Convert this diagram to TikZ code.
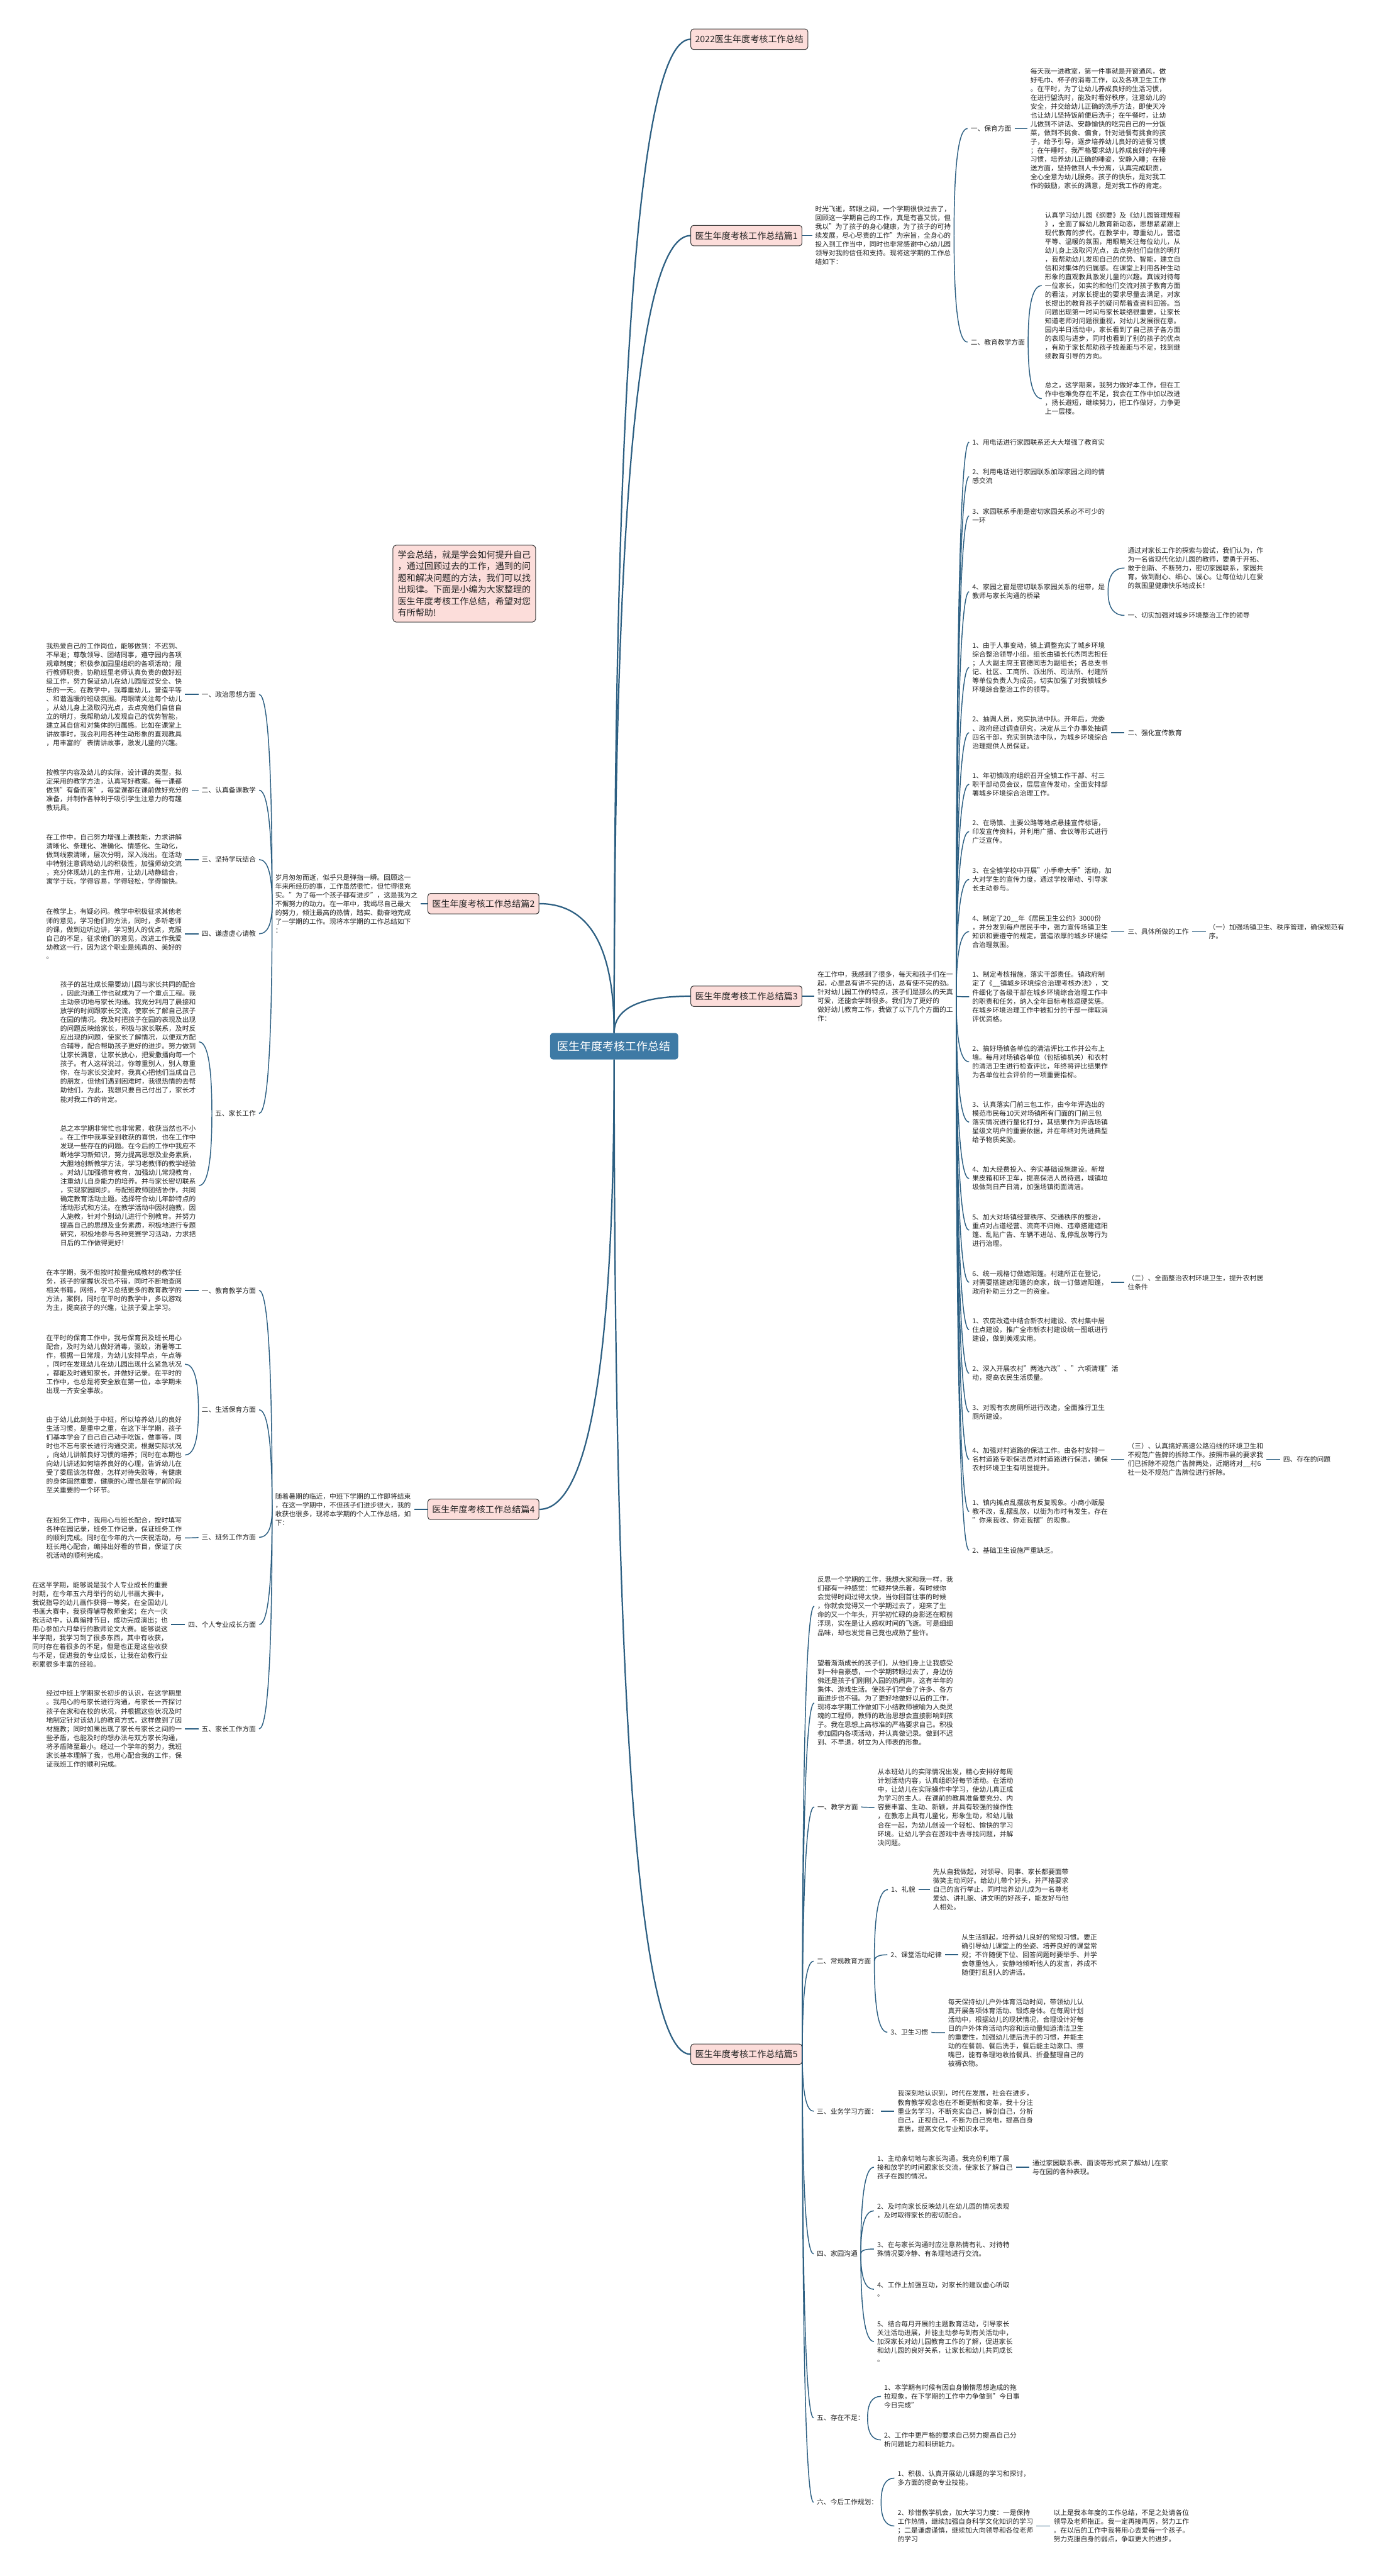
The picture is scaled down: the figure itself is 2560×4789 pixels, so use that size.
\documentclass[tikz,border=0pt]{standalone}
\usepackage{fontspec}
\setmainfont{Noto Sans CJK SC}
\usetikzlibrary{calc}
\definecolor{lnk}{RGB}{44,95,130}
\definecolor{ctr}{RGB}{62,122,165}
\definecolor{pk}{RGB}{252,221,218}
\definecolor{bd}{RGB}{60,60,60}
\definecolor{tx}{RGB}{35,35,35}
\tikzset{
 txt/.style={inner sep=0pt, outer sep=6pt, align=left, anchor=west, text=tx, font=\fontsize{12.6}{16.4}\selectfont},
 brbox/.style={draw=bd, line width=1.2pt, fill=pk, rounded corners=5pt, inner xsep=8pt, inner ysep=0pt, minimum height=38pt, anchor=west, text=tx, font=\fontsize{16.5}{18}\selectfont},
 ctrbox/.style={fill=ctr, rounded corners=5pt, minimum width=238pt, minimum height=49pt, text=white, font=\fontsize{21}{24}\selectfont},
 introbox/.style={draw=bd, line width=1.2pt, fill=pk, rounded corners=6pt, inner xsep=9pt, inner ysep=10pt, anchor=north west, align=left, text=tx, font=\fontsize{16.5}{21.5}\selectfont},
 conn/.style={draw=lnk, line width=1.7pt},
 mconn/.style={draw=lnk, line width=2.6pt},
}
\newcommand\cv[3][conn]{\draw[#1] (#2) .. controls ($(#2)!0.667!(#2|-#3)$) and ($(#3)!0.667!(#2|-#3)$) .. (#3);}
\begin{document}
\begin{tikzpicture}[x=1pt,y=-1pt]
\fill[white] (0,0) rectangle (2560,4789);
\useasboundingbox (0,0) rectangle (2560,4789);

% ---------- centre ----------
\node[ctrbox] (c) at (1142,1945) {医生年度考核工作总结};

% ---------- branch boxes ----------
\node[brbox] (t0) at (1284,73) {2022医生年度考核工作总结};
\node[brbox] (b1) at (1284,438) {医生年度考核工作总结篇1};
\node[brbox] (b3) at (1284,1852) {医生年度考核工作总结篇3};
\node[brbox] (b5) at (1284,3819) {医生年度考核工作总结篇5};
\node[brbox] (b2) at (795,1680) {医生年度考核工作总结篇2};
\node[brbox] (b4) at (795,2806) {医生年度考核工作总结篇4};
\node[introbox] (sum) at (730,1013) {学会总结，就是学会如何提升自己\\，通过回顾过去的工作，遇到的问\\题和解决问题的方法，我们可以找\\出规律。下面是小编为大家整理的\\医生年度考核工作总结，希望对您\\有所帮助!};

\cv[mconn]{c.north}{t0.west}
\cv[mconn]{c.north}{b1.west}
\cv[mconn]{c.north}{b3.west}
\cv[mconn]{c.north}{b2.east}
\cv[mconn]{c.south}{b4.east}
\cv[mconn]{c.south}{b5.west}

% ---------- branch 1 ----------
\node[txt] (b1i) at (1510,438) {时光飞逝，转眼之间，一个学期很快过去了，\\回顾这一学期自己的工作，真是有喜又忧，但\\我以"为了孩子的身心健康，为了孩子的可持\\续发展，尽心尽责的工作"为宗旨，全身心的\\投入到工作当中，同时也非常感谢中心幼儿园\\领导对我的信任和支持。现将这学期的工作总\\结如下：};
\node[txt] (b1a) at (1799,239) {一、保育方面};
\node[txt] (b1at) at (1910,239) {每天我一进教室，第一件事就是开窗通风，做\\好毛巾、杯子的消毒工作，以及各项卫生工作\\。在平时，为了让幼儿养成良好的生活习惯，\\在进行盥洗时，能及时看好秩序，注意幼儿的\\安全，并交给幼儿正确的洗手方法，即使天冷\\也让幼儿坚持饭前便后洗手；在午餐时，让幼\\儿做到不讲话、安静愉快的吃完自己的一分饭\\菜，做到不挑食、偏食，针对进餐有挑食的孩\\子，给予引导，逐步培养幼儿良好的进餐习惯\\；在午睡时，我严格要求幼儿养成良好的午睡\\习惯，培养幼儿正确的睡姿，安静入睡；在接\\送方面，坚持做到人卡分离，认真完成职责，\\全心全意为幼儿服务。孩子的快乐，是对我工\\作的鼓励，家长的满意，是对我工作的肯定。};
\node[txt] (b1b) at (1799,636) {二、教育教学方面};
\node[txt] (b1b1) at (1937,531) {认真学习幼儿园《纲要》及《幼儿园管理规程\\》，全面了解幼儿教育新动态，思想紧紧跟上\\现代教育的步代。在教学中，尊重幼儿，营造\\平等、温暖的氛围，用眼睛关注每位幼儿，从\\幼儿身上汲取闪光点，去点亮他们自信的明灯\\，我帮助幼儿发现自己的优势、智能，建立自\\信和对集体的归属感。在课堂上利用各种生动\\形象的直观教具激发儿童的兴趣。真诚对待每\\一位家长，如实的和他们交流对孩子教育方面\\的看法，对家长提出的要求尽量去满足，对家\\长提出的教育孩子的疑问帮着查资料回答。当\\问题出现第一时间与家长联络很重要，让家长\\知道老师对问题很重视，对幼儿发展很在意。\\园内半日活动中，家长看到了自己孩子各方面\\的表现与进步，同时也看到了别的孩子的优点\\，有助于家长帮助孩子找差距与不足，找到继\\续教育引导的方向。};
\node[txt] (b1b2) at (1937,741) {总之，这学期来，我努力做好本工作，但在工\\作中也难免存在不足，我会在工作中加以改进\\，扬长避短，继续努力，把工作做好，力争更\\上一层楼。};
\cv{b1.east}{b1i.west}
\cv{b1i.east}{b1a.west}
\cv{b1i.east}{b1b.west}
\cv{b1a.east}{b1at.west}
\cv{b1b.east}{b1b1.west}
\cv{b1b.east}{b1b2.west}

% ---------- branch 3 ----------
\node[txt] (b3i) at (1514,1852) {在工作中，我感到了很多，每天和孩子们在一\\起，心里总有讲不完的话，总有使不完的劲。\\针对幼儿园工作的特点，孩子们是那么的天真\\可爱，还能会学到很多。我们为了更好的\\做好幼儿教育工作，我做了以下几个方面的工\\作：};
\node[txt] (r1) at (1802,822) {1、用电话进行家园联系还大大增强了教育实};
\node[txt] (r2) at (1802,886) {2、利用电话进行家园联系加深家园之间的情\\感交流};
\node[txt] (r3) at (1802,959) {3、家园联系手册是密切家园关系必不可少的\\一环};
\node[txt] (r4) at (1802,1100) {4、家园之窗是密切联系家园关系的纽带，是\\教师与家长沟通的桥梁};
\node[txt] (r4a) at (2091,1056) {通过对家长工作的探索与尝试，我们认为，作\\为一名省现代化幼儿园的教师，要勇于开拓、\\敢于创新、不断努力，密切家园联系，家园共\\育。做到耐心、细心、诚心。让每位幼儿在爱\\的氛围里健康快乐地成长！};
\node[txt] (r4b) at (2091,1144) {一、切实加强对城乡环境整治工作的领导};
\node[txt] (r5) at (1802,1241) {1、由于人事变动，镇上调整充实了城乡环境\\综合整治领导小组。组长由镇长代杰同志担任\\；人大副主席王官德同志为副组长；各总支书\\记、社区、工商所、派出所、司法所、村建所\\等单位负责人为成员，切实加强了对我镇城乡\\环境综合整治工作的领导。};
\node[txt] (r6) at (1802,1362) {2、抽调人员，充实执法中队。开年后，党委\\、政府经过调查研究，决定从三个办事处抽调\\四名干部，充实到执法中队，为城乡环境综合\\治理提供人员保证。};
\node[txt] (r6a) at (2091,1362) {二、强化宣传教育};
\node[txt] (r7) at (1802,1458) {1、年初镇政府组织召开全镇工作干部、村三\\职干部动员会议，层层宣传发动，全面安排部\\署城乡环境综合治理工作。};
\node[txt] (r8) at (1802,1546) {2、在场镇、主要公路等地点悬挂宣传标语，\\印发宣传资料，并利用广播、会议等形式进行\\广泛宣传。};
\node[txt] (r9) at (1802,1635) {3、在全镇学校中开展"小手牵大手"活动，加\\大对学生的宣传力度，通过学校带动、引导家\\长主动参与。};
\node[txt] (r10) at (1802,1732) {4、制定了20\_\_年《居民卫生公约》3000份\\，并分发到每户居民手中，强力宣传场镇卫生\\知识和要遵守的规定，营造浓厚的城乡环境综\\合治理氛围。};
\node[txt] (r10a) at (2091,1732) {三、具体所做的工作};
\node[txt] (r10b) at (2242,1732) {（一）加强场镇卫生、秩序管理，确保规范有\\序。};
\node[txt] (r11) at (1802,1853) {1、制定考核措施，落实干部责任。镇政府制\\定了《\_\_镇城乡环境综合治理考核办法》，文\\件细化了各级干部在城乡环境综合治理工作中\\的职责和任务，纳入全年目标考核逗硬奖惩。\\在城乡环境治理工作中被扣分的干部一律取消\\评优资格。};
\node[txt] (r12) at (1802,1974) {2、搞好场镇各单位的清洁评比工作并公布上\\墙。每月对场镇各单位（包括镇机关）和农村\\的清洁卫生进行检查评比，年终将评比结果作\\为各单位社会评价的一项重要指标。};
\node[txt] (r13) at (1802,2086) {3、认真落实门前三包工作，由今年评选出的\\模范市民每10天对场镇所有门面的门前三包\\落实情况进行量化打分，其结果作为评选场镇\\星级文明户的重要依据，并在年终对先进典型\\给予物质奖励。};
\node[txt] (r14) at (1802,2191) {4、加大经费投入、夯实基础设施建设。新增\\果皮箱和环卫车，提高保洁人员待遇，城镇垃\\圾做到日产日清，加强场镇街面清洁。};
\node[txt] (r15) at (1802,2287) {5、加大对场镇经营秩序、交通秩序的整治，\\重点对占道经营、流商不归摊、违章搭建遮阳\\篷、乱贴广告、车辆不进站、乱停乱放等行为\\进行治理。};
\node[txt] (r16) at (1802,2384) {6、统一规格订做遮阳篷。村建所正在登记，\\对需要搭建遮阳篷的商家，统一订做遮阳篷，\\政府补助三分之一的资金。};
\node[txt] (r16a) at (2091,2384) {（二）、全面整治农村环境卫生，提升农村居\\住条件};
\node[txt] (r17) at (1802,2472) {1、农房改造中结合新农村建设、农村集中居\\住点建设，推广全市新农村建设统一图纸进行\\建设，做到美观实用。};
\node[txt] (r18) at (1802,2553) {2、深入开展农村"两池六改"、"六项清理"活\\动，提高农民生活质量。};
\node[txt] (r19) at (1802,2625) {3、对现有农房厕所进行改造，全面推行卫生\\厕所建设。};
\node[txt] (r20) at (1802,2713) {4、加强对村道路的保洁工作。由各村安排一\\名村道路专职保洁员对村道路进行保洁，确保\\农村环境卫生有明显提升。};
\node[txt] (r20a) at (2091,2713) {（三）、认真搞好高速公路沿线的环境卫生和\\不规范广告牌的拆除工作。按照市县的要求我\\们已拆除不规范广告牌两处，近期将对\_\_村6\\社一处不规范广告牌位进行拆除。};
\node[txt] (r20b) at (2380,2713) {四、存在的问题};
\node[txt] (r21) at (1802,2810) {1、镇内摊点乱摆放有反复现象。小商小贩屡\\教不改，乱摆乱放，以街为市时有发生。存在\\"你来我收、你走我摆"的现象。};
\node[txt] (r22) at (1802,2882) {2、基础卫生设施严重缺乏。};
\cv{b3.east}{b3i.west}
\foreach \k in {1,...,22} {\cv{b3i.east}{r\k.west}}
\cv{r4.east}{r4a.west}
\cv{r4.east}{r4b.west}
\cv{r6.east}{r6a.west}
\cv{r10.east}{r10a.west}
\cv{r10a.east}{r10b.west}
\cv{r16.east}{r16a.west}
\cv{r20.east}{r20a.west}
\cv{r20a.east}{r20b.west}

% ---------- branch 5 ----------
\node[txt] (s1) at (1514,2986) {反思一个学期的工作，我想大家和我一样，我\\们都有一种感觉：忙碌并快乐着，有时候你\\会觉得时间过得太快，当你回首往事的时候\\，你就会觉得又一个学期过去了，迎来了生\\命的又一个年头，开学初忙碌的身影还在眼前\\浮现，实在是让人感叹时间的飞逝。可是细细\\品味，却也发觉自己竟也成熟了些许。};
\node[txt] (s2) at (1514,3166) {望着渐渐成长的孩子们，从他们身上让我感受\\到一种自豪感，一个学期转眼过去了，身边仿\\佛还是孩子们刚刚入园的热闹声，这有半年的\\集体、游戏生活。使孩子们学会了许多、各方\\面进步也不错。为了更好地做好以后的工作，\\现将本学期工作做如下小结教师被喻为人类灵\\魂的工程师，教师的政治思想会直接影响到孩\\子。我在思想上高标准的严格要求自己。积极\\参加园内各项活动，并认真做记录。做到不迟\\到、不早退，树立为人师表的形象。};
\node[txt] (s3) at (1514,3359) {一、教学方面};
\node[txt] (s3t) at (1626,3360) {从本班幼儿的实际情况出发，精心安排好每周\\计划活动内容，认真组织好每节活动。在活动\\中，让幼儿在实际操作中学习，使幼儿真正成\\为学习的主人。在课前的教具准备要充分、内\\容要丰富、生动、新颖，并具有较强的操作性\\，在教态上具有儿童化，形象生动，和幼儿融\\合在一起，为幼儿创设一个轻松、愉快的学习\\环境。让幼儿学会在游戏中去寻找问题，并解\\决问题。};
\node[txt] (s4) at (1513,3646) {二、常规教育方面};
\node[txt] (s4a) at (1651,3513) {1、礼貌};
\node[txt] (s4at) at (1729,3513) {先从自我做起，对领导、同事、家长都要面带\\微笑主动问好。给幼儿带个好头，并严格要求\\自己的言行举止，同时培养幼儿成为一名尊老\\爱幼、讲礼貌、讲文明的好孩子，能友好与他\\人相处。};
\node[txt] (s4b) at (1650,3634) {2、课堂活动纪律};
\node[txt] (s4bt) at (1782,3634) {从生活抓起，培养幼儿良好的常规习惯。要正\\确引导幼儿课堂上的坐姿、培养良好的课堂常\\规；不许随便下位、回答问题时要举手、并学\\会尊重他人，安静地倾听他人的发言，养成不\\随便打乱别人的讲话。};
\node[txt] (s4c) at (1650,3778) {3、卫生习惯};
\node[txt] (s4ct) at (1757,3779) {每天保持幼儿户外体育活动时间，带领幼儿认\\真开展各项体育活动、锻炼身体。在每周计划\\活动中，根据幼儿的现状情况，合理设计好每\\日的户外体育活动内容和运动量知道清洁卫生\\的重要性，加强幼儿便后洗手的习惯，并能主\\动的在餐前、餐后洗手，餐后能主动漱口、擦\\嘴巴，能有条理地收拾餐具、折叠整理自己的\\被褥衣物。};
\node[txt] (s5) at (1513,3925) {三、业务学习方面：};
\node[txt] (s5t) at (1663,3925) {我深刻地认识到，时代在发展，社会在进步，\\教育教学观念也在不断更新和变革，我十分注\\重业务学习，不断充实自己，解剖自己，分析\\自己，正视自己，不断为自己充电，提高自身\\素质，提高文化专业知识水平。};
\node[txt] (s6) at (1513,4190) {四、家园沟通};
\node[txt] (s6a) at (1625,4029) {1、主动亲切地与家长沟通。我充份利用了晨\\接和放学的时间跟家长交流，使家长了解自己\\孩子在园的情况。};
\node[txt] (s6a1) at (1914,4029) {通过家园联系表、面谈等形式来了解幼儿在家\\与在园的各种表现。};
\node[txt] (s6b) at (1625,4110) {2、及时向家长反映幼儿在幼儿园的情况表现\\，及时取得家长的密切配合。};
\node[txt] (s6c) at (1625,4181) {3、在与家长沟通时应注意热情有礼、对待特\\殊情况要冷静、有条理地进行交流。};
\node[txt] (s6d) at (1625,4256) {4、工作上加强互动，对家长的建议虚心听取\\。};
\node[txt] (s6e) at (1625,4353) {5、结合每月开展的主题教育活动，引导家长\\关注活动进展，并能主动参与到有关活动中，\\加深家长对幼儿园教育工作的了解，促进家长\\和幼儿园的良好关系，让家长和幼儿共同成长\\。};
\node[txt] (s7) at (1513,4495) {五、存在不足：};
\node[txt] (s7a) at (1638,4455) {1、本学期有时候有因自身懒惰思想造成的拖\\拉现象，在下学期的工作中力争做到"今日事\\今日完成"};
\node[txt] (s7b) at (1638,4536) {2、工作中更严格的要求自己努力提高自己分\\析问题能力和科研能力。};
\node[txt] (s8) at (1513,4652) {六、今后工作规划：};
\node[txt] (s8a) at (1663,4607) {1、积极、认真开展幼儿课题的学习和探讨，\\多方面的提高专业技能。};
\node[txt] (s8b) at (1663,4696) {2、珍惜教学机会，加大学习力度：一是保持\\工作热情，继续加强自身科学文化知识的学习\\；二是谦虚谨慎，继续加大向领导和各位老师\\的学习};
\node[txt] (s8b1) at (1953,4696) {以上是我本年度的工作总结，不足之处请各位\\领导及老师指正。我一定再接再厉，努力工作\\。在以后的工作中我将用心去爱每一个孩子。\\努力克服自身的弱点，争取更大的进步。};
\foreach \k in {1,...,8} {\cv{b5.east}{s\k.west}}
\cv{s3.east}{s3t.west}
\cv{s4.east}{s4a.west}
\cv{s4.east}{s4b.west}
\cv{s4.east}{s4c.west}
\cv{s4a.east}{s4at.west}
\cv{s4b.east}{s4bt.west}
\cv{s4c.east}{s4ct.west}
\cv{s5.east}{s5t.west}
\foreach \k in {a,b,c,d,e} {\cv{s6.east}{s6\k.west}}
\cv{s6a.east}{s6a1.west}
\cv{s7.east}{s7a.west}
\cv{s7.east}{s7b.west}
\cv{s8.east}{s8a.west}
\cv{s8.east}{s8b.west}
\cv{s8b.east}{s8b1.west}

% ---------- branch 2 ----------
\node[txt] (l2i) at (506,1680) {岁月匆匆而逝，似乎只是弹指一瞬。回顾这一\\年来所经历的事，工作虽然很忙，但忙得很充\\实。"为了每一个孩子都有进步"，这是我为之\\不懈努力的动力。在一年中，我竭尽自己最大\\的努力，倾注最高的热情，踏实、勤奋地完成\\了一学期的工作。现将本学期的工作总结如下\\：};
\node[txt] (l2a) at (369,1291) {一、政治思想方面};
\node[txt] (l2at) at (80,1291) {我热爱自己的工作岗位，能够做到：不迟到、\\不早退；尊敬领导、团结同事，遵守园内各项\\规章制度；积极参加园里组织的各项活动；履\\行教师职责，协助班里老师认真负责的做好班\\级工作，努力保证幼儿在幼儿园度过安全、快\\乐的一天。在教学中，我尊重幼儿，营造平等\\、和谐温暖的班级氛围。用眼睛关注每个幼儿\\，从幼儿身上汲取闪光点，去点亮他们自信自\\立的明灯，我帮助幼儿发现自己的优势智能，\\建立其自信和对集体的归属感。比如在课堂上\\讲故事时，我会利用各种生动形象的直观教具\\，用丰富的'表情讲故事，激发儿童的兴趣。};
\node[txt] (l2b) at (369,1469) {二、认真备课教学};
\node[txt] (l2bt) at (80,1469) {按教学内容及幼儿的实际，设计课的类型，拟\\定采用的教学方法，认真写好教案。每一课都\\做到"有备而来"，每堂课都在课前做好充分的\\准备，并制作各种利于吸引学生注意力的有趣\\教玩具。};
\node[txt] (l2c) at (369,1598) {三、坚持学玩结合};
\node[txt] (l2ct) at (80,1598) {在工作中，自己努力增强上课技能，力求讲解\\清晰化、条理化、准确化、情感化、生动化，\\做到线索清晰，层次分明，深入浅出。在活动\\中特别注意调动幼儿的积极性，加强师幼交流\\，充分体现幼儿的主作用，让幼儿动静结合，\\寓学于玩，学得容易，学得轻松，学得愉快。};
\node[txt] (l2d) at (369,1736) {四、谦虚虚心请教};
\node[txt] (l2dt) at (80,1736) {在教学上，有疑必问。教学中积极征求其他老\\师的意见，学习他们的方法，同时，多听老师\\的课，做到边听边讲，学习别人的优点，克服\\自己的不足，征求他们的意见，改进工作我爱\\幼教这一行，因为这个职业是纯真的、美好的\\。};
\node[txt] (l2e) at (394,2070) {五、家长工作};
\node[txt] (l2e1) at (106,1937) {孩子的茁壮成长需要幼儿园与家长共同的配合\\，因此沟通工作也就成为了一个重点工程。我\\主动亲切地与家长沟通。我充分利用了晨接和\\放学的时间跟家长交流，使家长了解自己孩子\\在园的情况。我及时把孩子在园的表现及出现\\的问题反映给家长，积极与家长联系，及时反\\应出现的问题，使家长了解情况，以便双方配\\合辅导，配合帮助孩子更好的进步。努力做到\\让家长满意，让家长放心，把爱撒播向每一个\\孩子。有人这样说过，你尊重别人，别人尊重\\你，在与家长交流时，我真心把他们当成自己\\的朋友，但他们遇到困难时，我很热情的去帮\\助他们，为此，我想只要自己付出了，家长才\\能对我工作的肯定。};
\node[txt] (l2e2) at (106,2204) {总之本学期非常忙也非常累，收获当然也不小\\。在工作中我享受到收获的喜悦，也在工作中\\发现一些存在的问题。在今后的工作中我应不\\断地学习新知识，努力提高思想及业务素质，\\大胆地创新教学方法，学习老教师的教学经验\\。对幼儿加强德育教育，加强幼儿常规教育，\\注重幼儿自身能力的培养。并与家长密切联系\\，实现家园同步。与配班教师团结协作，共同\\确定教育活动主题。选择符合幼儿年龄特点的\\活动形式和方法。在教学活动中因材施教，因\\人施教，针对个别幼儿进行个别教育。并努力\\提高自己的思想及业务素质，积极地进行专题\\研究，积极地参与各种竞赛学习活动，力求把\\日后的工作做得更好！};
\cv{b2.west}{l2i.east}
\foreach \k in {a,b,c,d,e} {\cv{l2i.west}{l2\k.east}}
\foreach \k in {a,b,c,d} {\cv{l2\k.west}{l2\k t.east}}
\cv{l2e.west}{l2e1.east}
\cv{l2e.west}{l2e2.east}

% ---------- branch 4 ----------
\node[txt] (l4i) at (506,2806) {随着暑期的临近，中班下学期的工作即将结束\\，在这一学期中，不但孩子们进步很大，我的\\收获也很多，现将本学期的个人工作总结，如\\下：};
\node[txt] (l4a) at (369,2399) {一、教育教学方面};
\node[txt] (l4at) at (80,2399) {在本学期，我不但按时按量完成教材的教学任\\务，孩子的掌握状况也不错，同时不断地查阅\\相关书籍，网络，学习总结更多的教育教学的\\方法，案例，同时在平时的教学中，多以游戏\\为主，提高孩子的兴趣，让孩子爱上学习。};
\node[txt] (l4b) at (369,2621) {二、生活保育方面};
\node[txt] (l4b1) at (80,2536) {在平时的保育工作中，我与保育员及班长用心\\配合，及时为幼儿做好消毒，驱蚊，消暑等工\\作，根据一日常规，为幼儿安排早点，午点等\\，同时在发现幼儿在幼儿园出现什么紧急状况\\，都能及时通知家长，并做好记录。在平时的\\工作中，也总是将安全放在第一位，本学期未\\出现一齐安全事故。};
\node[txt] (l4b2) at (80,2705) {由于幼儿此刻处于中班，所以培养幼儿的良好\\生活习惯，是重中之重，在这下半学期，孩子\\们基本学会了自己自己动手吃饭，做事等，同\\时也不忘与家长进行沟通交流，根据实际状况\\，向幼儿讲解良好习惯的培养；同时在本期也\\向幼儿讲述如何培养良好的心理，告诉幼儿在\\受了委屈该怎样做，怎样对待失败等，有健康\\的身体固然重要，健康的心理也是在学前阶段\\至关重要的一个环节。};
\node[txt] (l4c) at (369,2858) {三、班务工作方面};
\node[txt] (l4ct) at (80,2859) {在班务工作中，我用心与班长配合，按时填写\\各种在园记录，班务工作记录，保证班务工作\\的顺利完成。同时在今年的六一庆祝活动，与\\班长用心配合，编排出好看的节目，保证了庆\\祝活动的顺利完成。};
\node[txt] (l4d) at (344,3020) {四、个人专业成长方面};
\node[txt] (l4dt) at (54,3020) {在这半学期，能够说是我个人专业成长的重要\\时期，在今年五六月举行的幼儿书画大赛中，\\我说指导的幼儿画作获得一等奖，在全国幼儿\\书画大赛中，我获得辅导教师金奖；在六一庆\\祝活动中，认真编排节目，成功完成演出；也\\用心参加六月举行的教师论文大赛。能够说这\\半学期，我学习到了很多东西，其中有收获，\\同时存在着很多的不足，但是也正是这些收获\\与不足，促进我的专业成长，让我在幼教行业\\积累很多丰富的经验。};
\node[txt] (l4e) at (369,3214) {五、家长工作方面};
\node[txt] (l4et) at (80,3214) {经过中班上学期家长初步的认识，在这学期里\\。我用心的与家长进行沟通，与家长一齐探讨\\孩子在家和在校的状况，并根据这些状况及时\\地制定针对该幼儿的教育方式，这样做到了因\\材施教；同时如果出现了家长与家长之间的一\\些矛盾，也能及时的想办法与双方家长沟通，\\将矛盾降至最小。经过一个学年的努力，我班\\家长基本理解了我，也用心配合我的工作，保\\证我班工作的顺利完成。};
\cv{b4.west}{l4i.east}
\foreach \k in {a,b,c,d,e} {\cv{l4i.west}{l4\k.east}}
\foreach \k in {a,c,d,e} {\cv{l4\k.west}{l4\k t.east}}
\cv{l4b.west}{l4b1.east}
\cv{l4b.west}{l4b2.east}
\end{tikzpicture}
\end{document}
